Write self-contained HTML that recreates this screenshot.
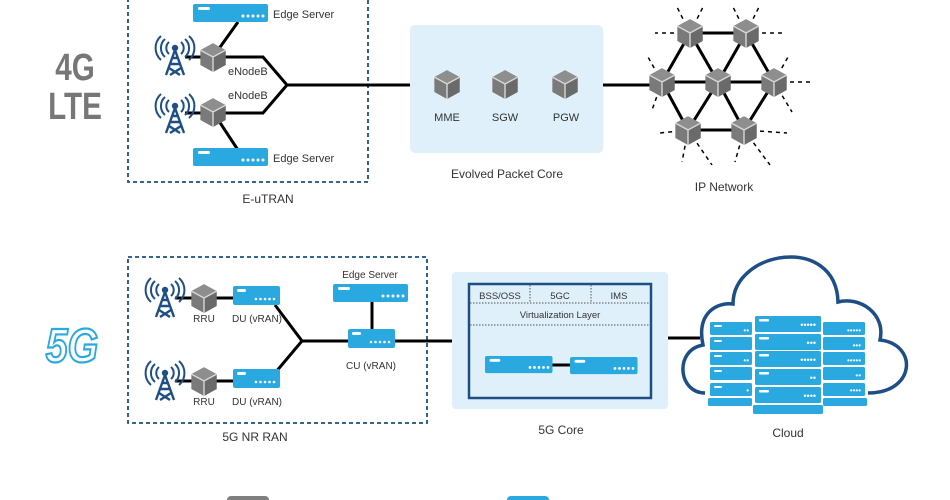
<!DOCTYPE html>
<html><head><meta charset="utf-8"><style>
html,body{margin:0;padding:0;background:#fff}
svg{display:block}
text{font-family:"Liberation Sans",sans-serif;fill:#333}
</style></head><body>
<svg width="950" height="500" viewBox="0 0 950 500" xmlns="http://www.w3.org/2000/svg">
<defs>
<g id="cube">
 <g transform="scale(1.15)">
 <polygon points="0,-12 11,-6 11,7 0,13 -11,7 -11,-6" fill="#7a7a7a"/>
 <polygon points="0,-12 11,-6 0,0 -11,-6" fill="#8e8e8e"/>
 <polygon points="0,0 11,-6 11,7 0,13" fill="#6a6a6a"/>
 <path d="M-11,-6 L0,0 L11,-6 M0,0 L0,13" stroke="#d8d8d8" stroke-width="1.2" fill="none"/>
 </g>
</g>
<g id="tower" fill="none" stroke="#1d4f86" stroke-width="2.4">
 <path d="M0,-4 L-9,21 M0,-4 L9,21 M-5,10 L5,10 M-6,14 L5,21 M6,14 L-5,21 M-3,4 L3,4"/>
 <circle cx="0" cy="-6" r="3.2" fill="#1d4f86" stroke="none"/>
 <path d="M-6,-12 A8,8 0 0 0 -6,0 M6,-12 A8,8 0 0 1 6,0 M-10,-15 A12,12 0 0 0 -10,3 M10,-15 A12,12 0 0 1 10,3 M-14,-18 A16,16 0 0 0 -14,6 M14,-18 A16,16 0 0 1 14,6" stroke-width="2"/>
</g>
<g id="srv">
 <rect x="0" y="0" width="75" height="18" rx="2" fill="#29a9e0"/>
 <rect x="5" y="3" width="12" height="3" rx="1.5" fill="#fff"/>
 <g fill="#fff"><circle cx="50" cy="12" r="1.5"/><circle cx="55" cy="12" r="1.5"/><circle cx="60" cy="12" r="1.5"/><circle cx="65" cy="12" r="1.5"/><circle cx="70" cy="12" r="1.5"/></g>
</g>
<g id="srvs">
 <rect x="0" y="0" width="47" height="19" rx="2" fill="#29a9e0"/>
 <rect x="4" y="3" width="9" height="3" rx="1.5" fill="#fff"/>
 <g fill="#fff"><circle cx="23" cy="13" r="1.3"/><circle cx="27.5" cy="13" r="1.3"/><circle cx="32" cy="13" r="1.3"/><circle cx="36.5" cy="13" r="1.3"/><circle cx="41" cy="13" r="1.3"/></g>
</g>
</defs>

<!-- labels 4G / 5G -->
<text x="75" y="80" text-anchor="middle" font-size="38" font-weight="bold" style="fill:#777" transform="translate(75,0) scale(0.78,1) translate(-75,0)">4G</text>
<text x="75" y="119" text-anchor="middle" font-size="38" font-weight="bold" style="fill:#777" transform="translate(75,0) scale(0.78,1) translate(-75,0)">LTE</text>
<text x="72" y="362" text-anchor="middle" font-size="48" font-weight="bold" font-style="italic" style="fill:#fff;stroke:#29a9e0;stroke-width:2.2" transform="translate(72,0) scale(0.82,1) translate(-72,0)">5G</text>

<!-- 4G RAN box -->
<rect x="128" y="-5" width="240" height="187" fill="none" stroke="#1d4f86" stroke-width="1.8" stroke-dasharray="4,3"/>
<g stroke="#000" stroke-width="3" fill="none">
 <path d="M213,57 L238,22"/><path d="M213,112 L238,150"/>
 <path d="M185,57 L213,57 L263,57 L287,85 L263,113 L185,113"/>
 <path d="M287,85 L410,85"/>
 <path d="M603,85 L662,85"/>
</g>
<use href="#srv" x="193" y="4"/>
<use href="#srv" x="193" y="148"/>
<text x="273" y="18" font-size="11">Edge Server</text>
<text x="273" y="162" font-size="11">Edge Server</text>
<use href="#tower" x="175" y="54"/>
<use href="#tower" x="175" y="112"/>
<use href="#cube" x="213" y="57"/>
<use href="#cube" x="213" y="112"/>
<text x="228" y="75" font-size="11">eNodeB</text>
<text x="228" y="99" font-size="11">eNodeB</text>
<text x="268" y="203" font-size="12" text-anchor="middle">E-uTRAN</text>

<!-- EPC -->
<rect x="410" y="25" width="193" height="128" rx="5" fill="#dff0fa"/>
<use href="#cube" x="447" y="84"/><use href="#cube" x="505" y="84"/><use href="#cube" x="565" y="84"/>
<text x="447" y="121" font-size="11" text-anchor="middle">MME</text>
<text x="505" y="121" font-size="11" text-anchor="middle">SGW</text>
<text x="566" y="121" font-size="11" text-anchor="middle">PGW</text>
<text x="507" y="178" font-size="12" text-anchor="middle">Evolved Packet Core</text>

<!-- IP network -->
<g stroke="#000" stroke-width="3" fill="none">
 <path d="M690,33 L746,33 M662,82 L774,82 M688,130 L744,130 M690,33 L662,82 L688,130 L718,82 L690,33 M746,33 L718,82 L744,130 L774,82 L746,33"/>
</g>
<g stroke="#000" stroke-width="1.5" stroke-dasharray="4,4" fill="none">
 <path d="M690,33 L677,7 M690,33 L703,7 M746,33 L733,7 M746,33 L759,7 M690,33 L655,33 M746,33 L782,33 M662,82 L648,57 M662,82 L652,110 M774,82 L788,57 M774,82 L812,82 M774,82 L792,112 M688,130 L660,133 M688,130 L682,162 M688,130 L712,165 M744,130 L735,162 M744,130 L770,165 M744,130 L787,133"/>
</g>
<use href="#cube" x="690" y="33"/><use href="#cube" x="746" y="33"/>
<use href="#cube" x="662" y="82"/><use href="#cube" x="718" y="82"/><use href="#cube" x="774" y="82"/>
<use href="#cube" x="688" y="130"/><use href="#cube" x="744" y="130"/>
<text x="724" y="191" font-size="12" text-anchor="middle">IP Network</text>

<!-- 5G RAN -->
<rect x="128" y="257" width="299" height="166" fill="none" stroke="#1d4f86" stroke-width="1.8" stroke-dasharray="4,3"/>
<g stroke="#000" stroke-width="3" fill="none">
 <path d="M175,298 L240,298 M175,381 L240,381"/>
 <path d="M275,305 L302,341 L275,373 M302,341 L352,341"/>
 <path d="M372,300 L372,332"/>
 <path d="M392,341 L470,341 M650,338 L700,338"/>
</g>
<use href="#tower" x="165" y="296"/>
<use href="#tower" x="165" y="379"/>
<use href="#cube" x="204" y="298"/>
<use href="#cube" x="204" y="381"/>
<text x="204" y="322" font-size="10" text-anchor="middle">RRU</text>
<text x="204" y="405" font-size="10" text-anchor="middle">RRU</text>
<use href="#srvs" x="233" y="286"/>
<use href="#srvs" x="233" y="369"/>
<text x="257" y="322" font-size="10" text-anchor="middle">DU (vRAN)</text>
<text x="257" y="405" font-size="10" text-anchor="middle">DU (vRAN)</text>
<use href="#srvs" x="348" y="329"/>
<text x="371" y="369" font-size="10" text-anchor="middle">CU (vRAN)</text>
<use href="#srv" x="333" y="284"/>
<text x="370" y="278" font-size="10" text-anchor="middle">Edge Server</text>
<text x="255" y="441" font-size="12" text-anchor="middle">5G NR RAN</text>

<!-- 5G core -->
<rect x="452" y="272" width="216" height="137" rx="4" fill="#dff0fa"/>
<rect x="469" y="284" width="182" height="114" fill="none" stroke="#1d4f86" stroke-width="2.5"/>
<g stroke="#555" stroke-width="1" stroke-dasharray="1.5,1.5">
 <path d="M470,303 L650,303 M470,325 L650,325 M530,285 L530,303 M591,285 L591,303"/>
</g>
<text x="500" y="299" font-size="9.5" text-anchor="middle">BSS/OSS</text>
<text x="560" y="299" font-size="9.5" text-anchor="middle">5GC</text>
<text x="619" y="299" font-size="9.5" text-anchor="middle">IMS</text>
<text x="560" y="318" font-size="9.5" text-anchor="middle">Virtualization Layer</text>
<path d="M550,365 L572,365" stroke="#000" stroke-width="3"/>
<g transform="translate(485,356) scale(0.9,0.95)"><use href="#srv"/></g>
<g transform="translate(570,357) scale(0.9,0.95)"><use href="#srv"/></g>
<text x="561" y="434" font-size="12" text-anchor="middle">5G Core</text>

<!-- Cloud -->
<path d="M705,393 C678,393 674,350 703,345 C696,312 718,302 733,304 C733,250 836,234 838,302 C860,296 886,314 880,340 C918,344 916,393 868,393" fill="none" stroke="#1d4f86" stroke-width="3.5"/>
<g fill="#29a9e0">
 <rect x="710" y="322" width="42" height="13" rx="1.5"/><rect x="710" y="337" width="42" height="13" rx="1.5"/><rect x="710" y="352" width="42" height="13" rx="1.5"/><rect x="710" y="367" width="42" height="13" rx="1.5"/><rect x="710" y="383" width="42" height="13" rx="1.5"/><rect x="708" y="398" width="44" height="8" rx="1.5"/>
 <rect x="755" y="316" width="66" height="16" rx="1.5"/><rect x="755" y="334" width="66" height="16" rx="1.5"/><rect x="755" y="351" width="66" height="16" rx="1.5"/><rect x="755" y="369" width="66" height="16" rx="1.5"/><rect x="755" y="387" width="66" height="16" rx="1.5"/><rect x="753" y="405" width="70" height="9" rx="1.5"/>
 <rect x="823" y="322" width="42" height="13" rx="1.5"/><rect x="823" y="337" width="42" height="13" rx="1.5"/><rect x="823" y="352" width="42" height="13" rx="1.5"/><rect x="823" y="367" width="42" height="13" rx="1.5"/><rect x="823" y="383" width="42" height="13" rx="1.5"/><rect x="823" y="398" width="44" height="8" rx="1.5"/>
</g>
<g fill="#fff">
 <rect x="714" y="325" width="8" height="2" rx="1"/><rect x="714" y="340" width="8" height="2" rx="1"/><rect x="714" y="355" width="8" height="2" rx="1"/><rect x="714" y="370" width="8" height="2" rx="1"/><rect x="714" y="386" width="8" height="2" rx="1"/>
 <rect x="759" y="319" width="10" height="2.5" rx="1"/><rect x="759" y="337" width="10" height="2.5" rx="1"/><rect x="759" y="354" width="10" height="2.5" rx="1"/><rect x="759" y="372" width="10" height="2.5" rx="1"/><rect x="759" y="390" width="10" height="2.5" rx="1"/>
 <text x="816" y="328" font-size="9" text-anchor="end" style="fill:#fff">•••••</text>
 <text x="816" y="346" font-size="9" text-anchor="end" style="fill:#fff">•••</text>
 <text x="816" y="363" font-size="9" text-anchor="end" style="fill:#fff">•••••</text>
 <text x="816" y="381" font-size="9" text-anchor="end" style="fill:#fff">••</text>
 <text x="816" y="399" font-size="9" text-anchor="end" style="fill:#fff">••••</text>
 <text x="861" y="333" font-size="8" text-anchor="end" style="fill:#fff">•••••</text>
 <text x="861" y="348" font-size="8" text-anchor="end" style="fill:#fff">•••</text>
 <text x="861" y="363" font-size="8" text-anchor="end" style="fill:#fff">•••••</text>
 <text x="861" y="378" font-size="8" text-anchor="end" style="fill:#fff">••</text>
 <text x="861" y="393" font-size="8" text-anchor="end" style="fill:#fff">••••</text>
 <text x="749" y="333" font-size="8" text-anchor="end" style="fill:#fff">••</text>
 <text x="749" y="363" font-size="8" text-anchor="end" style="fill:#fff">••</text>
 <text x="749" y="393" font-size="8" text-anchor="end" style="fill:#fff">•</text>
</g>
<text x="788" y="437" font-size="12" text-anchor="middle">Cloud</text>

<!-- bottom partial legend -->
<rect x="227" y="496" width="42" height="10" rx="4" fill="#7f7f7f"/>
<rect x="507" y="496" width="42" height="10" rx="4" fill="#29a9e0"/>
</svg>
</body></html>
